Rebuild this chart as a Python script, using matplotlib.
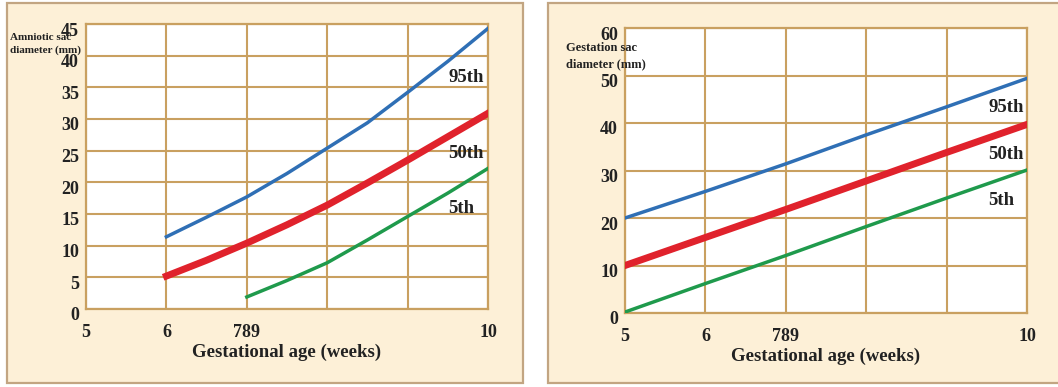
import matplotlib.pyplot as plt
from matplotlib.patches import Rectangle
from matplotlib.transforms import ScaledTranslation

# x axis: gestational age (weeks), gridline at every week
weeks = [5, 6, 7, 8, 9, 10]
week_labels = ['5', '6', '789', '', '', '10']

# left panel: amniotic sac diameter (mm), read at half-week steps
amn_x_95 = [6, 6.5, 7, 7.5, 8, 8.5, 9, 9.5, 10]
amn_95 = [11.4, 14.5, 17.7, 21.4, 25.4, 29.4, 34.2, 39.1, 44.3]
amn_x_50 = [6, 6.5, 7, 7.5, 8, 8.5, 9, 9.5, 10]
amn_50 = [5.2, 7.7, 10.4, 13.3, 16.4, 19.9, 23.5, 27.2, 30.9]
amn_x_5 = [7, 7.5, 8, 8.5, 9, 9.5, 10]
amn_5 = [1.9, 4.5, 7.3, 10.9, 14.6, 18.3, 22.2]

# right panel: gestation sac diameter (mm)
ges_95 = [20.0, 25.6, 31.4, 37.5, 43.4, 49.4]
ges_50 = [10.0, 15.9, 21.8, 27.8, 33.8, 39.7]
ges_5 = [0.2, 6.2, 12.1, 18.2, 24.2, 30.1]

BEIGE = '#fdf0d7'
TAN = '#c9a060'
SERIF = 'Liberation Serif'
BLUE, RED, GREEN = '#2f6fb5', '#e0222c', '#1f9a4c'

W, H = 1058, 387
fig = plt.figure(figsize=(W / 100, H / 100), dpi=100)
fig.patch.set_facecolor('white')

# beige panel frames (behind the axes)
for x0, x1 in [(7, 523), (548, 1062)]:
    fig.patches.append(Rectangle((x0 / W, 1 - 383 / H), (x1 - x0) / W, 380 / H,
                                 transform=fig.transFigure, facecolor=BEIGE,
                                 edgecolor='#c2a582', linewidth=1.6, zorder=-10))


def setup(ax, ymax, ystep):
    ax.set_facecolor('white')
    ax.set_xlim(5, 10)
    ax.set_ylim(0, ymax)
    ax.set_xticks(weeks)
    ax.set_xticklabels(week_labels)
    ax.set_yticks(range(0, ymax + 1, ystep))
    ax.grid(True, color=TAN, linewidth=1.5, zorder=1)
    ax.set_axisbelow(True)
    for s in ax.spines.values():
        s.set_color(TAN)
        s.set_linewidth(1.6)
    ax.tick_params(axis='x', length=0, pad=11)
    ax.tick_params(axis='y', length=0, pad=5)
    for lab in ax.get_xticklabels() + ax.get_yticklabels():
        lab.set_fontfamily(SERIF)
        lab.set_fontweight('bold')
        lab.set_fontsize(13)
        lab.set_color('#222222')
    for lab in ax.get_yticklabels():
        lab.set_transform(lab.get_transform() + ScaledTranslation(0, -0.05, fig.dpi_scale_trans))
    ax.set_xlabel('Gestational age (weeks)', fontfamily=SERIF, fontweight='bold',
                  fontsize=13.5, color='#222222', labelpad=2)


txt = dict(fontfamily=SERIF, fontweight='bold', fontsize=13.5, color='#222222',
           ha='left', va='center')

# left panel
ax1 = fig.add_axes([86 / W, 1 - 309 / H, 402 / W, 285 / H])
setup(ax1, 45, 5)
ax1.plot(amn_x_95, amn_95, color=BLUE, linewidth=2.5, zorder=3)
ax1.plot(amn_x_50, amn_50, color=RED, linewidth=5, zorder=3)
ax1.plot(amn_x_5, amn_5, color=GREEN, linewidth=2.5, zorder=3)
ax1.text(9.51, 36.6, '95th', **txt)
ax1.text(9.51, 24.6, '50th', **txt)
ax1.text(9.51, 15.8, '5th', **txt)
fig.text(10 / W, 1 - 44 / H, 'Amniotic sac\ndiameter (mm)', fontfamily=SERIF,
         fontweight='bold', fontsize=8, color='#222222', ha='left', va='center',
         linespacing=1.45, zorder=5)

# right panel
ax2 = fig.add_axes([625 / W, 1 - 313 / H, 402 / W, 285 / H])
setup(ax2, 60, 10)
ax2.plot(weeks, ges_95, color=BLUE, linewidth=2.5, zorder=3)
ax2.plot(weeks, ges_50, color=RED, linewidth=5, zorder=3)
ax2.plot(weeks, ges_5, color=GREEN, linewidth=2.5, zorder=3)
ax2.text(9.52, 43.2, '95th', **txt)
ax2.text(9.52, 33.3, '50th', **txt)
ax2.text(9.52, 23.6, '5th', **txt)
fig.text(566 / W, 1 - 56 / H, 'Gestation sac\ndiameter (mm)', fontfamily=SERIF,
         fontweight='bold', fontsize=9, color='#222222', ha='left', va='center',
         linespacing=1.4, zorder=5)

fig.savefig('out.png', dpi=100)
